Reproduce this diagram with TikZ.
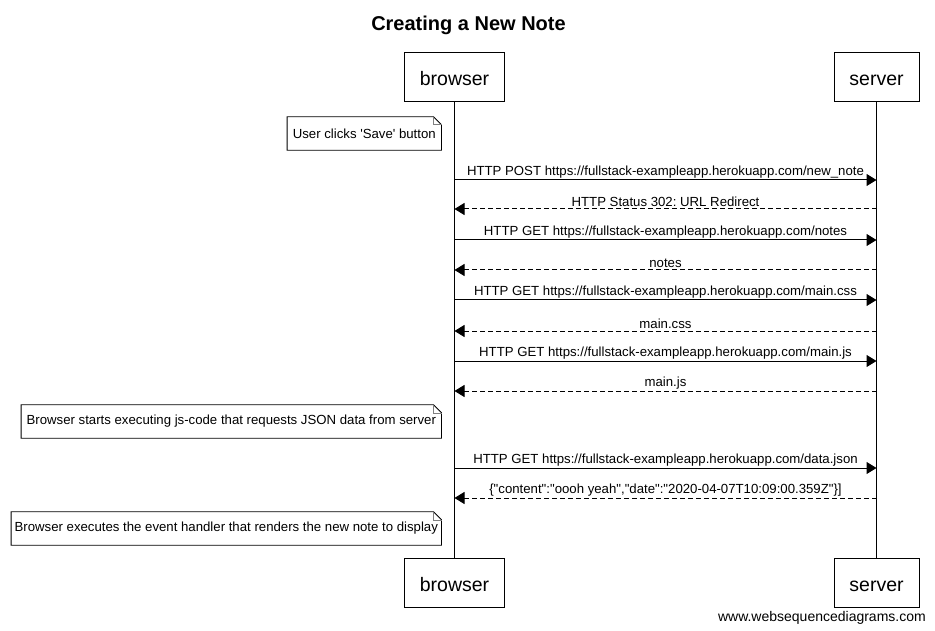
\documentclass[tikz,border=0pt]{standalone}
\usepackage{fontspec}
\setmainfont{Liberation Sans}
\usetikzlibrary{arrows.meta}
\frenchspacing
\newcommand\qdbl{\textquotedbl}
\newcommand\dogear[1]{%
  \draw[line width=0.8pt] (#1.north west) -- ([xshift=-8pt]#1.north east) -- ([yshift=-8pt]#1.north east) -- (#1.south east) -- (#1.south west) -- cycle;
  \draw[line width=0.6pt, gray] ([xshift=-8pt]#1.north east) -- ([xshift=-8pt,yshift=-8pt]#1.north east) -- ([yshift=-8pt]#1.north east);}
\begin{document}
\begin{tikzpicture}[x=1pt,y=-1pt,
  actor/.style={draw, line width=1pt, minimum height=49pt, inner sep=0pt, text height=17pt, text depth=0pt, font=\fontsize{19.5}{22}\selectfont},
  life/.style={line width=1pt},
  msg/.style={line width=1pt, -{Triangle[length=10pt,width=12pt]}},
  reply/.style={msg, dash pattern=on 5pt off 3pt},
  lbl/.style={above, inner sep=1.5pt, font=\fontsize{13.2}{15}\selectfont},
  notebox/.style={anchor=east, minimum height=33pt, inner sep=0pt, align=center, font=\fontsize{13.2}{15}\selectfont}]
\useasboundingbox[fill=white] (0,0) rectangle (935,631);

\node[font=\bfseries\fontsize{20}{24}\selectfont] (title) at (468.5,25) {Creating a New Note};

\node[actor, minimum width=100pt] (bt) at (454.5,77.5) {browser};
\node[actor, minimum width=85pt] (st) at (876.5,77.5) {server};
\node[actor, minimum width=100pt] (bb) at (454.5,582.5) {browser};
\node[actor, minimum width=85pt] (sb) at (876.5,582.5) {server};
\draw[life] (bt.south) -- (bb.north);
\draw[life] (st.south) -- (sb.north);

\node[notebox, minimum width=154pt] (n1) at (441.5,133.5) {User clicks \textquotesingle Save\textquotesingle\ button};
\dogear{n1}

\foreach \i/\y in {1/180,2/209,3/240,4/270,5/300,6/331,7/361,8/391,9/468,10/498}{
  \coordinate (b\i) at (454.5,\y);
  \coordinate (s\i) at (876.5,\y);
}
\draw[msg] (b1) -- node[lbl] {HTTP POST https://fullstack-exampleapp.herokuapp.com/new\_note} (s1);
\draw[reply] (s2) -- node[lbl] {HTTP Status 302: URL Redirect} (b2);
\draw[msg] (b3) -- node[lbl] {HTTP GET https://fullstack-exampleapp.herokuapp.com/notes} (s3);
\draw[reply] (s4) -- node[lbl] {notes} (b4);
\draw[msg] (b5) -- node[lbl] {HTTP GET https://fullstack-exampleapp.herokuapp.com/main.css} (s5);
\draw[reply] (s6) -- node[lbl] {main.css} (b6);
\draw[msg] (b7) -- node[lbl] {HTTP GET https://fullstack-exampleapp.herokuapp.com/main.js} (s7);
\draw[reply] (s8) -- node[lbl] {main.js} (b8);

\node[notebox, minimum width=420pt] (n2) at (441.5,421.5) {Browser starts executing js-code that requests JSON data from server};
\dogear{n2}

\draw[msg] (b9) -- node[lbl] {HTTP GET https://fullstack-exampleapp.herokuapp.com/data.json} (s9);
\draw[reply] (s10) -- node[lbl] {\{\qdbl content\qdbl:\qdbl oooh yeah\qdbl,\qdbl date\qdbl:\qdbl 2020-04-07T10:09:00.359Z\qdbl\}]} (b10);

\node[notebox, minimum width=430pt] (n3) at (441.5,528.5) {Browser executes the event handler that renders the new note to display};
\dogear{n3}

\node[anchor=east, inner sep=0pt, font=\fontsize{14}{16}\selectfont] (footer) at (926,618) {www.websequencediagrams.com};
\end{tikzpicture}
\end{document}
